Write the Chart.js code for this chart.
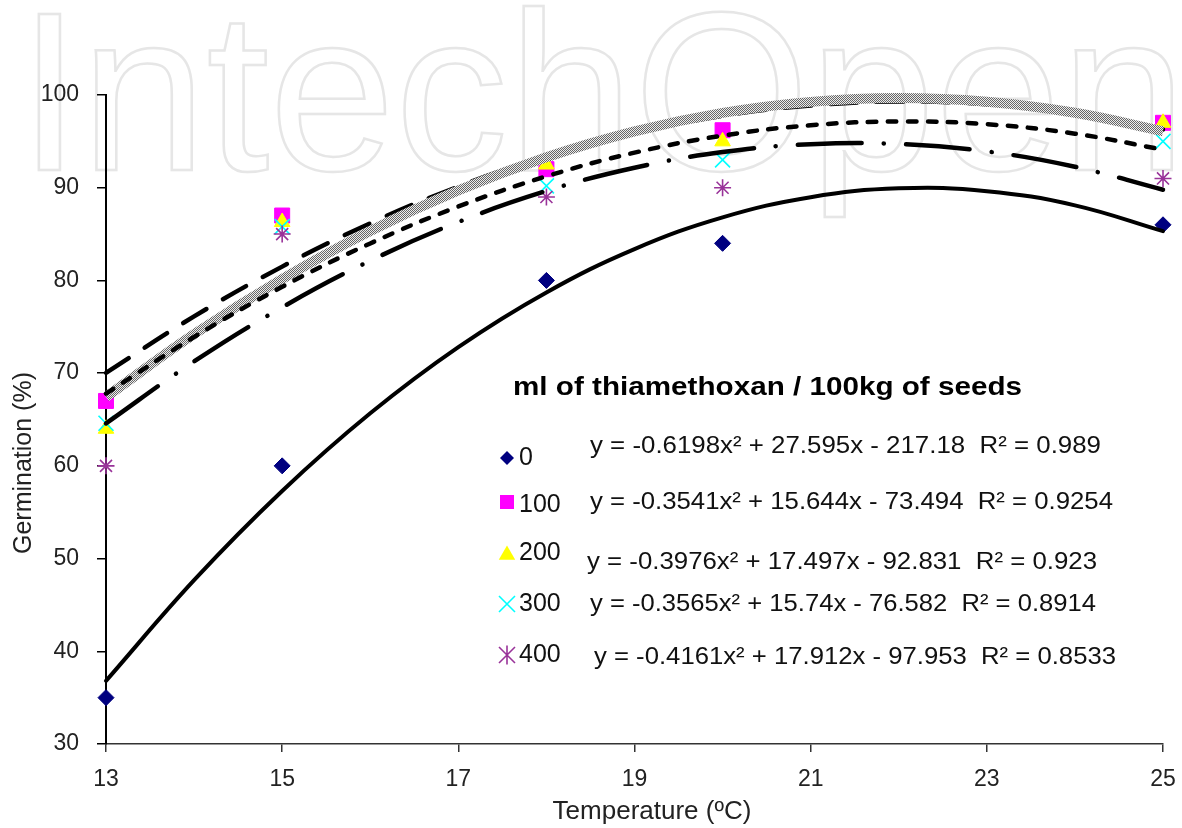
<!DOCTYPE html>
<html><head><meta charset="utf-8">
<script src="https://cdn.jsdelivr.net/npm/chart.js@4.4.0/dist/chart.umd.min.js"></script>
<style>html,body{margin:0;padding:0;background:#fff;} #wrap{width:1182px;height:828px;position:relative;}</style>
</head><body><div id="wrap"><canvas id="c" width="1182" height="828"></canvas></div>
<script>
// ---- data ----
const temperatures = [13, 15, 18, 20, 25];
const doseLabels = ['0', '100', '200', '300', '400'];
const germ0   = [35, 60, 80, 84, 86];
const germ100 = [67, 87, 92, 96.2, 97];
const germ200 = [64, 86.3, 92.5, 95, 97];
const germ300 = [64.6, 85.8, 90.2, 93, 95];
const germ400 = [60, 85, 89, 90, 91];

// trend curves read at each whole degree
const trendX   = [13, 14, 15, 16, 17, 18, 19, 20, 21, 22, 23, 24, 25];
const trend0   = [36.81, 47.67, 57.29, 65.67, 72.81, 78.71, 83.38, 86.80, 88.98, 89.93, 89.63, 88.10, 85.32];
const trend100 = [70.03, 76.12, 81.49, 86.16, 90.12, 93.37, 95.91, 97.75, 98.87, 99.29, 99.00, 98.00, 96.29];
const trend200 = [67.44, 74.20, 80.16, 85.34, 89.71, 93.29, 96.08, 98.07, 99.26, 99.67, 99.27, 98.08, 96.09];
const trend300 = [67.79, 73.90, 79.31, 83.99, 87.97, 91.23, 93.78, 95.62, 96.74, 97.15, 96.85, 95.83, 94.11];
const trend400 = [64.58, 71.26, 77.10, 82.12, 86.30, 89.65, 92.16, 93.85, 94.70, 94.72, 93.91, 92.26, 89.78];

const equations = [
  'y = -0.6198x² + 27.595x - 217.18  R² = 0.989',
  'y = -0.3541x² + 15.644x - 73.494  R² = 0.9254',
  'y = -0.3976x² + 17.497x - 92.831  R² = 0.923',
  'y = -0.3565x² + 15.74x - 76.582  R² = 0.8914',
  'y = -0.4161x² + 17.912x - 97.953  R² = 0.8533'
];
const xMin = 13, xMax = 25, xStep = 2;
const yMin = 30, yMax = 100, yStep = 10;
const xTitle = 'Temperature (ºC)';
const yTitle = 'Germination (%)';
const legendTitle = 'ml of thiamethoxan / 100kg of seeds';
const watermark = 'IntechOpen';

// ---- styles ----
const markerColors = ['#000080', '#FF00FF', '#FFFF00', '#00FFFF', '#993399'];
const markerStyles = ['rectRot', 'rect', 'triangle', 'crossRot', 'star'];
const markerRadius = [8, 10.6, 9, 10.6, 8.5];
const germSeries = [germ0, germ100, germ200, germ300, germ400];
const trendSeries = [trend0, trend100, trend200, trend300, trend400];

const canvas = document.getElementById('c');
const ctx = canvas.getContext('2d');

const pc = document.createElement('canvas');
pc.width = 2; pc.height = 2;
const pctx = pc.getContext('2d');
pctx.fillStyle = '#ececec'; pctx.fillRect(0, 0, 2, 2);
pctx.fillStyle = '#666666'; pctx.fillRect(0, 0, 1, 1); pctx.fillRect(1, 1, 1, 1);
const grayPattern = ctx.createPattern(pc, 'repeat');

const lineStyles = [
  {color: '#000', width: 4, dash: [], cap: 'round', order: 1},
  {color: '#000', width: 4.5, dash: [27, 19], cap: 'round', order: 5},
  {color: grayPattern, width: 10, dash: [], cap: 'butt', order: 4},
  {color: '#000', width: 4.5, dash: [8.5, 11.5], cap: 'round', order: 3},
  {color: '#000', width: 4.5, dash: [64, 22, 0.1, 22], cap: 'round', order: 2}
];

const datasets = [];
trendSeries.forEach((t, i) => {
  const s = lineStyles[i];
  datasets.push({
    label: 'trend ' + doseLabels[i],
    data: trendX.map((x, k) => ({x: x, y: t[k]})),
    showLine: true, pointRadius: 0, pointHoverRadius: 0,
    borderColor: s.color, borderWidth: s.width, borderDash: s.dash,
    borderCapStyle: s.cap, borderJoinStyle: 'round',
    tension: 0.4, fill: false, order: s.order, clip: 6
  });
});
germSeries.forEach((g, i) => {
  const cross = (markerStyles[i] === 'crossRot' || markerStyles[i] === 'star');
  datasets.push({
    label: doseLabels[i],
    data: temperatures.map((x, k) => ({x: x, y: g[k]})),
    showLine: false,
    pointStyle: markerStyles[i],
    pointRadius: markerRadius[i], pointHoverRadius: markerRadius[i],
    backgroundColor: markerColors[i], borderColor: markerColors[i],
    pointBorderWidth: cross ? 1.6 : 1,
    order: 20 - i, clip: false
  });
});

function fitText(c, text, x, yMid, width, font) {
  c.font = font;
  const w = c.measureText(text).width;
  c.save();
  c.translate(x, yMid);
  c.scale(width / w, 1);
  c.textAlign = 'left';
  c.textBaseline = 'middle';
  c.fillText(text, 0, 0);
  c.restore();
}

function drawMarker(c, style, color, x, y, r) {
  c.save();
  c.fillStyle = color; c.strokeStyle = color; c.lineWidth = 1.6;
  c.beginPath();
  if (style === 'rectRot') {
    c.moveTo(x, y - r); c.lineTo(x + r, y); c.lineTo(x, y + r); c.lineTo(x - r, y); c.closePath(); c.fill();
  } else if (style === 'rect') {
    c.fillRect(x - r, y - r, 2 * r, 2 * r);
  } else if (style === 'triangle') {
    c.moveTo(x, y - r); c.lineTo(x + r * 0.866, y + r * 0.5); c.lineTo(x - r * 0.866, y + r * 0.5); c.closePath(); c.fill();
  } else if (style === 'crossRot') {
    c.moveTo(x - r, y - r); c.lineTo(x + r, y + r); c.moveTo(x + r, y - r); c.lineTo(x - r, y + r); c.stroke();
  } else {
    c.moveTo(x - r, y - r); c.lineTo(x + r, y + r); c.moveTo(x + r, y - r); c.lineTo(x - r, y + r);
    c.moveTo(x, y - r * 1.2); c.lineTo(x, y + r * 1.2); c.stroke();
  }
  c.restore();
}

const decorPlugin = {
  id: 'decor',
  beforeDraw(chart) {
    const c = chart.ctx;
    c.save();
    c.fillStyle = '#fff';
    c.fillRect(0, 0, chart.width, chart.height);
    c.font = '226px "Liberation Sans", Arial, sans-serif';
    c.textBaseline = 'alphabetic';
    c.strokeStyle = '#e6e6e6';
    c.lineWidth = 2.5;
    c.strokeText(watermark, 18, 170);
    c.restore();
  },
  afterDraw(chart) {
    const c = chart.ctx;
    c.save();
    c.fillStyle = '#222';
    // axis titles
    c.font = '26px "Liberation Sans", Arial, sans-serif';
    c.textAlign = 'center';
    c.textBaseline = 'middle';
    c.fillText(xTitle, 652, 812);
    c.font = '25px "Liberation Sans", Arial, sans-serif';
    c.save();
    c.translate(24, 463);
    c.rotate(-Math.PI / 2);
    c.fillText(yTitle, 0, 0);
    c.restore();
    // legend
    c.fillStyle = '#000';
    fitText(c, legendTitle, 513, 388, 509, 'bold 26px "Liberation Sans", Arial, sans-serif');
    const markY = [458, 502, 555, 604, 655];
    const labY = [458, 505, 553, 604, 655];
    const eqX = [590, 590, 587, 590, 594];
    const eqW = [511, 523, 510, 506, 522];
    const eqY = [446, 502, 562, 604, 657];
    const legR = [7, 7, 9.5, 8, 8];
    for (let i = 0; i < 5; i++) {
      drawMarker(c, markerStyles[i], markerColors[i], 507, markY[i], legR[i]);
      c.fillStyle = '#111';
      c.font = '25px "Liberation Sans", Arial, sans-serif';
      c.textAlign = 'left';
      c.textBaseline = 'middle';
      c.fillText(doseLabels[i], 519, labY[i]);
      fitText(c, equations[i], eqX[i], eqY[i], eqW[i], '24px "Liberation Sans", Arial, sans-serif');
    }
    c.restore();
  }
};

new Chart(ctx, {
  type: 'scatter',
  data: {datasets: datasets},
  options: {
    responsive: false,
    animation: false,
    devicePixelRatio: 1,
    layout: {padding: {top: 95, right: 19, left: 0, bottom: 0}},
    plugins: {legend: {display: false}, tooltip: {enabled: false}},
    events: [],
    scales: {
      x: {
        type: 'linear', min: xMin, max: xMax,
        afterFit(scale) { scale.height = 84; scale.paddingRight = 0; scale.paddingLeft = 0; },
        ticks: {stepSize: xStep, color: '#222', padding: 14,
                font: {family: '"Liberation Sans", Arial, sans-serif', size: 23}},
        grid: {display: true, drawOnChartArea: false, drawTicks: true, tickLength: 8, color: '#333', lineWidth: 1.5},
        border: {display: true, color: '#333', width: 1.5},
        title: {display: false}
      },
      y: {
        type: 'linear', min: yMin, max: yMax,
        afterFit(scale) { scale.width = 106; scale.paddingTop = 0; scale.paddingBottom = 0; },
        ticks: {stepSize: yStep, color: '#222', padding: 18,
                font: {family: '"Liberation Sans", Arial, sans-serif', size: 23}},
        grid: {display: true, drawOnChartArea: false, drawTicks: true, tickLength: 9, color: '#000', lineWidth: 1.5},
        border: {display: true, color: '#000', width: 2},
        title: {display: false}
      }
    }
  },
  plugins: [decorPlugin]
});
</script>
</body></html>
